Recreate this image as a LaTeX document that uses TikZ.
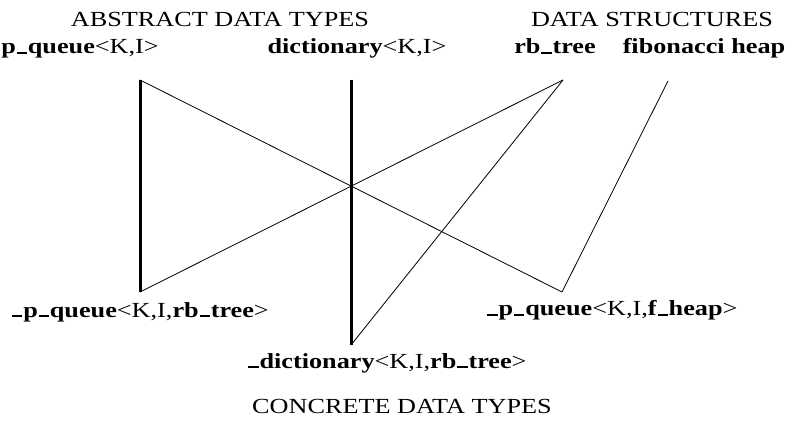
\documentclass[tikz,border=0pt]{standalone}
\usepackage{fontspec}
\setmainfont{Liberation Serif}[FakeStretch=1.22]
\newcommand{\us}{\kern0.04em\rule{0.48em}{0.09em}\kern0.04em}
\begin{document}
\begin{tikzpicture}[x=1pt,y=-1pt,
    label/.style={font=\fontsize{21.5}{25}\selectfont, anchor=base, inner sep=0pt},
    impl/.style={line width=3pt},
    link/.style={line width=0.8pt}]
    \useasboundingbox (0,0) rectangle (787,430);

    % headings
    \node[label] (abstract) at (220,27) {ABSTRACT DATA TYPES};
    \node[label] (structures) at (652,27) {DATA STRUCTURES};
    \node[label] (concrete) at (402,413) {CONCRETE DATA TYPES};

    % abstract types and structures
    \node[label] (pq) at (80,54) {\textbf{p\us queue}<K,I>};
    \node[label] (dict) at (357,54) {\textbf{dictionary}<K,I>};
    \node[label] (rb) at (555,54) {\textbf{rb\us tree}};
    \node[label] (fib) at (704,54) {\textbf{fibonacci heap}};

    % concrete types
    \node[label] (pqrb) at (140,317) {\textbf{\us p\us queue}<K,I,\textbf{rb\us tree}>};
    \node[label] (pqfh) at (612,316) {\textbf{\us p\us queue}<K,I,\textbf{f\us heap}>};
    \node[label] (dictrb) at (387,368) {\textbf{\us dictionary}<K,I,\textbf{rb\us tree}>};

    \coordinate (pq-end) at (140,80);
    \coordinate (dict-end) at (351,80);
    \coordinate (rb-end) at (563,80);
    \coordinate (fib-end) at (668,81);
    \coordinate (pqrb-end) at (140,292);
    \coordinate (pqfh-end) at (562,292);
    \coordinate (dictrb-end) at (351,345);

    \draw[impl] (pq-end) -- (pqrb-end);
    \draw[impl] (dict-end) -- (dictrb-end);
    \draw[link] (pq-end) -- (pqfh-end);
    \draw[link] (rb-end) -- (pqrb-end);
    \draw[link] (rb-end) -- (dictrb-end);
    \draw[link] (fib-end) -- (pqfh-end);
\end{tikzpicture}
\end{document}
